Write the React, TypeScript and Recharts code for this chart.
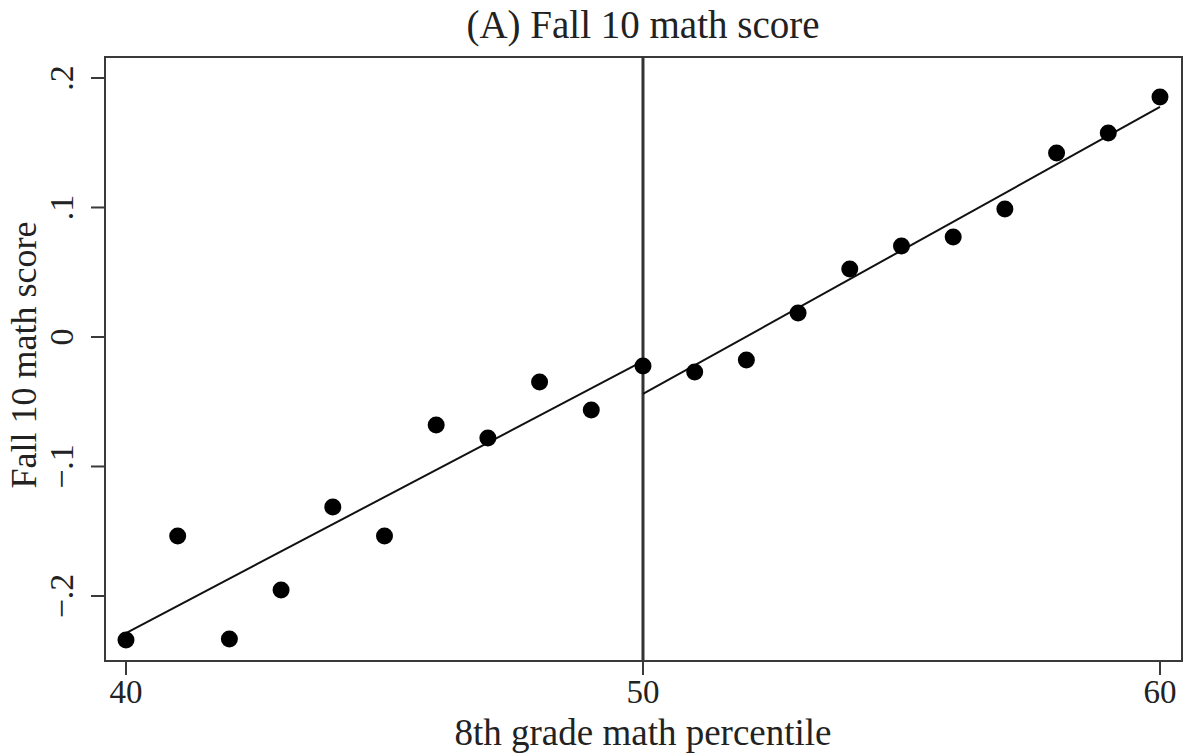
import {
  ComposedChart,
  Scatter,
  Line,
  XAxis,
  YAxis,
  ReferenceLine,
  ReferenceArea,
} from "recharts"

// binned means, 8th grade percentile 40..60
const percentiles = [40, 41, 42, 43, 44, 45, 46, 47, 48, 49, 50, 51, 52, 53, 54, 55, 56, 57, 58, 59, 60]
const scores = [
  -0.234, -0.1537, -0.2332, -0.1954, -0.1313, -0.1537, -0.068, -0.078, -0.0347, -0.0564,
  -0.0224, -0.027, -0.0178, 0.0185, 0.0525, 0.0703, 0.0772, 0.0988, 0.142, 0.1575, 0.1853,
]

// linear fits on each side of the cutoff
const fitLeftX = [40, 50]
const fitLeftY = [-0.2286, -0.0186]
const fitRightX = [50, 60]
const fitRightY = [-0.044, 0.1776]

const xTicks = [40, 50, 60]
const yTicks = [-0.2, -0.1, 0, 0.1, 0.2]
const cutoff = 50
const xDomain = [39.594, 60.426]
const yDomain = [-0.2502, 0.2162]

const points = percentiles.map((p, i) => ({ x: p, y: scores[i] }))
const fitLeft = fitLeftX.map((x, i) => ({ x, fit: fitLeftY[i] }))
const fitRight = fitRightX.map((x, i) => ({ x, fit: fitRightY[i] }))

const FONT = "'Liberation Serif', 'Times New Roman', serif"
const INK = "#222"
const FRAME = "#3a3a3a"

const fmtY = (v: number) => {
  if (v === 0) return "0"
  const s = Math.abs(v).toFixed(1).replace(/^0/, "")
  return v < 0 ? `\u2212${s}` : s
}

// eslint-disable-next-line @typescript-eslint/no-explicit-any
function XTick({ x, y, payload }: any) {
  return (
    <text x={x} y={y + 26} textAnchor="middle" fontSize={33} fontFamily={FONT} fill={INK}>
      {payload.value}
    </text>
  )
}

// eslint-disable-next-line @typescript-eslint/no-explicit-any
function YTick({ x, y, payload }: any) {
  const bx = x - 16
  return (
    <text
      x={bx}
      y={y}
      transform={`rotate(-90, ${bx}, ${y})`}
      textAnchor="middle"
      fontSize={34}
      fontFamily={FONT}
      fill={INK}
    >
      {fmtY(payload.value)}
    </text>
  )
}

export default function App() {
  return (
    <div style={{ position: "absolute", left: 0, top: 0, width: 1185, height: 756, background: "#fff" }}>
      <div
        style={{
          position: "absolute",
          left: 0,
          top: 3,
          width: 1286,
          textAlign: "center",
          fontFamily: FONT,
          fontSize: 39,
          lineHeight: "44px",
          color: INK,
        }}
      >
        (A) Fall 10 math score
      </div>
      <ComposedChart width={1185} height={756} margin={{ top: 57, right: 3, bottom: 0, left: 0 }}>
        <XAxis
          dataKey="x"
          type="number"
          domain={xDomain}
          ticks={xTicks}
          allowDataOverflow
          tick={<XTick />}
          tickSize={14}
          tickLine={{ stroke: FRAME, strokeWidth: 2 }}
          axisLine={{ stroke: FRAME, strokeWidth: 2 }}
          height={95}
          label={{
            content: () => (
              <text x={643} y={745} textAnchor="middle" fontSize={37} fontFamily={FONT} fill={INK}>
                8th grade math percentile
              </text>
            ),
          }}
        />
        <YAxis
          type="number"
          domain={yDomain}
          ticks={yTicks}
          allowDataOverflow
          width={105}
          tick={<YTick />}
          tickSize={14}
          tickLine={{ stroke: FRAME, strokeWidth: 2 }}
          axisLine={{ stroke: FRAME, strokeWidth: 2 }}
          label={{
            content: () => (
              <text
                x={36}
                y={355}
                transform="rotate(-90, 36, 355)"
                textAnchor="middle"
                fontSize={36}
                fontFamily={FONT}
                fill={INK}
              >
                Fall 10 math score
              </text>
            ),
          }}
        />
        <ReferenceArea
          x1={xDomain[0]}
          x2={xDomain[1]}
          y1={yDomain[0]}
          y2={yDomain[1]}
          fill="none"
          stroke={FRAME}
          strokeWidth={2}
        />
        <ReferenceLine x={cutoff} stroke="#333" strokeWidth={3} />
        <Line
          data={fitLeft}
          dataKey="fit"
          type="linear"
          stroke="#111"
          strokeWidth={2}
          dot={false}
          activeDot={false}
          isAnimationActive={false}
        />
        <Line
          data={fitRight}
          dataKey="fit"
          type="linear"
          stroke="#111"
          strokeWidth={2}
          dot={false}
          activeDot={false}
          isAnimationActive={false}
        />
        <Scatter
          data={points}
          dataKey="y"
          isAnimationActive={false}
          // eslint-disable-next-line @typescript-eslint/no-explicit-any
          shape={(p: any) => <circle cx={p.cx} cy={p.cy} r={8.5} fill="#000" />}
        />
      </ComposedChart>
    </div>
  )
}
